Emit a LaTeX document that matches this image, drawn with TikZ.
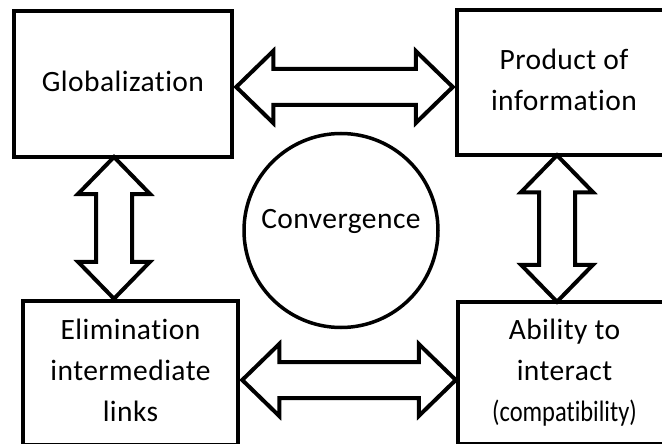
\documentclass[tikz,border=0pt]{standalone}
\usepackage{fontspec}
\setmainfont{Carlito}[Ligatures=NoCommon,LetterSpace=1.5]
\usetikzlibrary{calc}
\newcommand{\lstrut}{\rule[-6pt]{0pt}{26pt}}
\newcommand{\cstrut}{\rule[-25pt]{0pt}{45pt}}
\newcommand{\hdarrow}[2]{\draw[dblarrow] (#1) -- ($(#1)+(37,-36)$) -- ($(#1)+(37,-18)$) -- ($(#2)+(-37,-18)$) -- ($(#2)+(-37,-36)$) -- (#2) -- ($(#2)+(-37,36)$) -- ($(#2)+(-37,18)$) -- ($(#1)+(37,18)$) -- ($(#1)+(37,36)$) -- cycle;}
\newcommand{\vdarrow}[2]{\draw[dblarrow] (#1) -- ($(#1)+(36,37)$) -- ($(#1)+(18,37)$) -- ($(#2)+(18,-37)$) -- ($(#2)+(36,-37)$) -- (#2) -- ($(#2)+(-36,-37)$) -- ($(#2)+(-18,-37)$) -- ($(#1)+(-18,37)$) -- ($(#1)+(-36,37)$) -- cycle;}
\begin{document}
\begin{tikzpicture}[x=1pt,y=-1pt,
  box/.style={draw, rectangle, line width=4.5pt, align=center, inner sep=0pt,
    font=\fontsize{29.5}{41}\selectfont},
  convstyle/.style={draw, circle, line width=3.5pt, inner sep=0pt, minimum size=194pt,
    font=\fontsize{29.5}{41}\selectfont},
  dblarrow/.style={draw, fill=white, line width=4pt, line join=miter}]
\useasboundingbox (0,0) rectangle (662,444);
\fill[white] (0,0) rectangle (662,444);
\clip (0,0) rectangle (662,444);
\node[box, minimum width=218pt, minimum height=146pt] (glob) at (123,84) {\lstrut Globalization};
\node[box, minimum width=214pt, minimum height=145pt] (prod) at (564,82.5) {\lstrut Product of\\\lstrut information};
\node[box, minimum width=215pt, minimum height=144pt] (elim) at (130.5,373) {\lstrut Elimination\\intermediate\\\lstrut links};
\node[box, minimum width=213pt, minimum height=142pt] (abil) at (564.5,373) {\lstrut Ability to\\interact\\\lstrut\scalebox{0.83}[1]{\addfontfeature{LetterSpace=0}(compatibility)}};
\node[convstyle] (conv) at (341,230.5) {\cstrut Convergence};
\coordinate (ha1) at ($(glob.east |- 0,87)+(2,0)$);
\coordinate (ha2) at ($(prod.west |- 0,87)+(-2,0)$);
\coordinate (hb1) at ($(elim.east |- 0,380)+(2,0)$);
\coordinate (hb2) at (abil.west |- 0,380);
\coordinate (va1) at ($(glob.south -| 114,0)+(0,-2.25)$);
\coordinate (va2) at (elim.north -| 114,0);
\coordinate (vb1) at ($(prod.south -| 557,0)+(0,-2)$);
\coordinate (vb2) at ($(abil.north -| 557,0)+(0,2)$);
\hdarrow{ha1}{ha2}
\hdarrow{hb1}{hb2}
\vdarrow{va1}{va2}
\vdarrow{vb1}{vb2}
\end{tikzpicture}
\end{document}
